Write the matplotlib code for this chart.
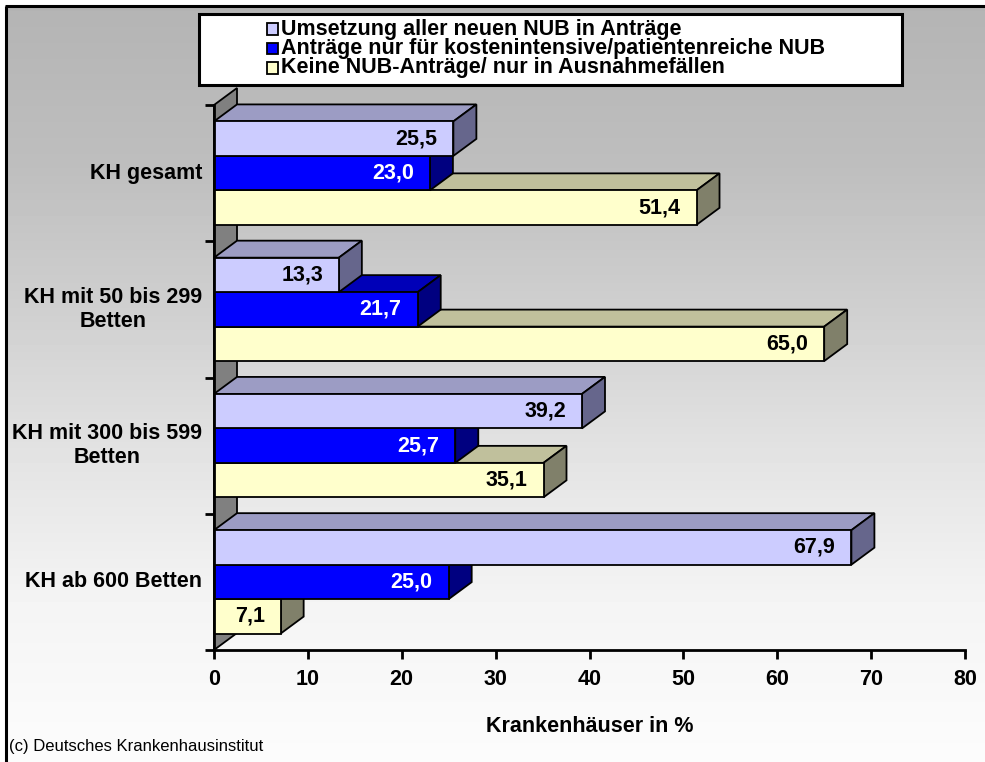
import numpy as np
import matplotlib
matplotlib.use("Agg")
import matplotlib.pyplot as plt
from matplotlib.patches import Rectangle, Polygon
from matplotlib.lines import Line2D

plt.rcParams["font.family"] = ["Liberation Sans", "DejaVu Sans"]

# Kategorien von oben nach unten
categories = ["KH gesamt", "KH mit 50 bis 299\nBetten",
              "KH mit 300 bis 599\nBetten", "KH ab 600 Betten"]
series_names = ["Umsetzung aller neuen NUB in Anträge",
                "Anträge nur für kostenintensive/patientenreiche NUB",
                "Keine NUB-Anträge/ nur in Ausnahmefällen"]
umsetzung_alle = [25.5, 13.3, 39.2, 67.9]
nur_kostenintensiv = [23.0, 21.7, 25.7, 25.0]
keine_antraege = [51.4, 65.0, 35.1, 7.1]
x_ticks = [0, 10, 20, 30, 40, 50, 60, 70, 80]

series_values = [umsetzung_alle, nur_kostenintensiv, keine_antraege]
# (front, top, side, label colour)
series_colors = [("#ccccff", "#9c9cc4", "#66668c", "black"),
                 ("#0000ff", "#0000b8", "#000080", "white"),
                 ("#ffffcc", "#c0c09c", "#80806a", "black")]

W, H = 985, 762
FS = 15.5
B = 6  # frame offset in px


def fx(x):
    return x / W


def fy(y):
    return 1 - y / H


fig = plt.figure(figsize=(W / 100, H / 100), dpi=100, facecolor="white")

# grey-to-white background
bg = fig.add_axes([fx(B), 0, 1 - fx(B), fy(B)], zorder=-10)
rows = np.arange(0, H)
grey = np.interp(rows, [0, 160, 310, 460, 600, 762],
                 [180, 190, 208, 228, 244, 252])
bg.imshow(np.repeat(grey[:, None], 8, axis=1), cmap="gray", vmin=0, vmax=255,
          aspect="auto", extent=[0, 1, 0, 1], interpolation="nearest")
bg.set_xlim(0, 1)
bg.set_ylim(0, 1)
bg.set_axis_off()

fig.add_artist(Line2D([fx(B - 1.5), 1], [fy(B), fy(B)], color="black",
                      lw=2.2, solid_capstyle="butt", transform=fig.transFigure))
fig.add_artist(Line2D([fx(B), fx(B)], [fy(B), 0], color="black",
                      lw=2.2, solid_capstyle="butt", transform=fig.transFigure))

# main axes: x 0..80 at px 214..965, y 0..4 at px 650..105
ax = fig.add_axes([fx(214), fy(650), fx(965) - fx(214), fy(105) - fy(650)])
ax.set_xlim(0, 80)
ax.set_ylim(0, 4)
ax.patch.set_visible(False)

dx = 23 / (751 / 80)
dy = 17 / (545 / 4)
edge = dict(edgecolor="black", linewidth=1.3, clip_on=False)

# left wall
ax.add_patch(Polygon([(0, 0), (dx, dy), (dx, 4 + dy), (0, 4)],
                     facecolor="#808080", zorder=1, **edge))

bar_h = 0.253
gap = (1 - 3 * bar_h) / 2
n = len(categories)
z = 2
for ci in range(n):
    g = n - 1 - ci
    # draw bottom bar first so bars above cover its top face
    for si in reversed(range(3)):
        v = series_values[si][ci]
        front, top, side, tc = series_colors[si]
        y0 = g + 1 - gap - (si + 1) * bar_h
        y1 = y0 + bar_h
        ax.add_patch(Polygon([(0, y1), (v, y1), (v + dx, y1 + dy), (dx, y1 + dy)],
                             facecolor=top, zorder=z, **edge))
        ax.add_patch(Polygon([(v, y0), (v + dx, y0 + dy), (v + dx, y1 + dy), (v, y1)],
                             facecolor=side, zorder=z, **edge))
        ax.add_patch(Rectangle((0, y0), v, bar_h, facecolor=front, zorder=z, **edge))
        label = f"{v:.1f}".replace(".", ",")
        ax.text(v - 1.7, (y0 + y1) / 2, label, ha="right", va="center",
                fontsize=FS, fontweight="bold", color=tc, zorder=z + 0.5)
        z += 1
    ax.text(-1.25, g + 0.5, categories[ci], ha="right", va="center",
            multialignment="center", fontsize=FS, fontweight="bold")

for s in ["top", "right"]:
    ax.spines[s].set_visible(False)
for s in ["left", "bottom"]:
    ax.spines[s].set_linewidth(2)
    ax.spines[s].set_zorder(50)
ax.set_xticks(x_ticks)
ax.set_xticklabels([str(t) for t in x_ticks], fontsize=FS, fontweight="bold")
ax.set_yticks(range(n + 1))
ax.set_yticklabels([])
ax.tick_params(axis="x", direction="out", length=6.5, width=2, pad=7)
ax.tick_params(axis="y", direction="out", length=6.5, width=2)

fig.text(fx(589.5), fy(727), "Krankenhäuser in %", ha="center", va="center",
         fontsize=FS, fontweight="bold")
fig.text(fx(9), fy(747), "(c) Deutsches Krankenhausinstitut", ha="left",
         va="center", fontsize=12)

# legend box
fig.add_artist(Rectangle((fx(199), fy(85)), fx(902) - fx(199), fy(14) - fy(85),
                         transform=fig.transFigure, facecolor="white",
                         edgecolor="black", linewidth=2.2, zorder=20))
for si, name in enumerate(series_names):
    yc = 29 + si * 19.5
    fig.add_artist(Rectangle((fx(267), fy(yc + 5.5)), fx(11), fy(0) - fy(11),
                             transform=fig.transFigure,
                             facecolor=series_colors[si][0],
                             edgecolor="black", linewidth=1.3, zorder=21))
    fig.text(fx(281), fy(yc), name, ha="left", va="center", fontsize=FS,
             fontweight="bold", zorder=22)

fig.savefig("out.png", dpi=100)
